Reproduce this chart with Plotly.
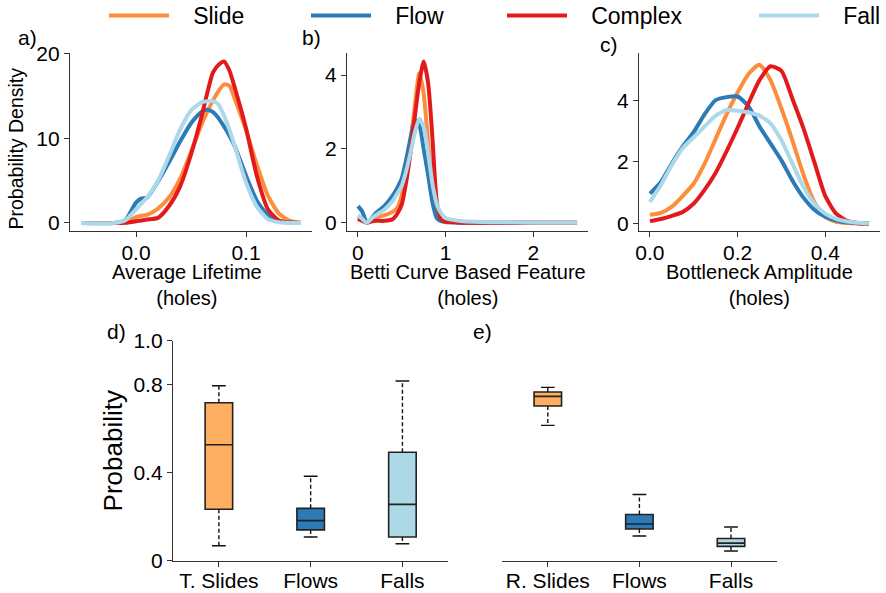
import plotly.graph_objects as go

W, H = 886, 593

# ---------------- data ----------------
series_names = ["Slide", "Flow", "Complex", "Fall"]
series_colors = ["#fd8d3c", "#2c7bb6", "#e31a1c", "#abd9e9"]

# panel a: Average Lifetime (holes)
lifetime_x = [-0.05, -0.02, -0.01, 0.0, 0.005, 0.01, 0.02, 0.03, 0.04, 0.05, 0.06, 0.065,
              0.07, 0.075, 0.08, 0.085, 0.09, 0.10, 0.11, 0.12, 0.13, 0.14, 0.15]
lifetime_slide = [0, 0, 0.05, 0.7, 0.85, 0.95, 1.7, 3.0, 5.2, 8.4, 11.8, 13.2,
                  14.5, 15.6, 16.4, 16.2, 14.6, 11.0, 6.8, 3.2, 1.1, 0.25, 0.02]
lifetime_flow = [0, 0, 0.3, 2.4, 2.9, 3.0, 4.9, 7.2, 9.6, 11.8, 13.2, 13.4,
                 13.1, 12.4, 11.4, 10.3, 9.0, 5.6, 2.6, 0.9, 0.25, 0.05, 0]
lifetime_complex = [0, 0, 0.02, 0.2, 0.3, 0.4, 0.6, 2.0, 4.3, 8.1, 12.8, 15.5,
                    17.8, 18.7, 19.1, 18.0, 15.9, 11.2, 5.5, 1.6, 0.3, 0.05, 0]
lifetime_fall = [0, 0, 0.3, 1.6, 2.3, 3.0, 5.0, 7.9, 11.0, 13.3, 14.3, 14.4,
                 14.4, 14.0, 12.7, 11.0, 9.0, 4.8, 1.9, 0.45, 0.08, 0.01, 0]

# panel b: Betti Curve Based Feature (holes)
betti_x = [0, 0.05, 0.1, 0.15, 0.2, 0.3, 0.4, 0.45, 0.5, 0.55, 0.6, 0.65, 0.7, 0.75,
           0.8, 0.85, 0.875, 0.9, 0.95, 1.0, 1.1, 1.2, 1.4, 1.7, 2.0, 2.5]
betti_slide = [0.15, 0.08, 0.0, 0.08, 0.15, 0.2, 0.3, 0.4, 0.75, 1.3, 2.2, 3.2, 4.05, 3.5,
               2.2, 1.0, 0.5, 0.25, 0.06, 0.02, 0.01, 0, 0, 0, 0, 0]
betti_flow = [0.45, 0.3, 0.0, 0.1, 0.25, 0.45, 0.75, 0.95, 1.2, 1.7, 2.3, 2.78, 2.65, 2.0,
              1.3, 0.55, 0.3, 0.12, 0.04, 0.02, 0.01, 0, 0, 0, 0, 0]
betti_complex = [0.1, 0.05, 0.0, 0.03, 0.05, 0.05, 0.1, 0.25, 0.5, 1.1, 1.9, 2.9, 3.8, 4.37,
                 3.8, 2.3, 1.3, 0.55, 0.08, 0.03, 0.01, 0, 0, 0, 0, 0]
betti_fall = [0.2, 0.1, 0.0, 0.1, 0.2, 0.35, 0.6, 0.8, 1.0, 1.4, 1.9, 2.45, 2.82, 2.6,
              1.9, 1.05, 0.75, 0.5, 0.25, 0.13, 0.07, 0.04, 0.02, 0.01, 0, 0]

# panel c: Bottleneck Amplitude (holes)
bottleneck_x = [0, 0.025, 0.05, 0.075, 0.1, 0.125, 0.15, 0.175, 0.2, 0.225, 0.25, 0.275,
                0.3, 0.325, 0.35, 0.375, 0.4, 0.425, 0.45, 0.475, 0.5]
bottleneck_slide = [0.29, 0.35, 0.55, 0.9, 1.3, 1.95, 2.75, 3.55, 4.25, 4.85, 5.15, 4.65,
                    3.73, 2.7, 1.6, 0.7, 0.22, 0.06, 0.02, 0.005, 0]
bottleneck_flow = [0.97, 1.35, 1.95, 2.5, 2.97, 3.55, 4.0, 4.1, 4.12, 3.8, 3.15, 2.6,
                   2.05, 1.4, 0.85, 0.45, 0.22, 0.1, 0.04, 0.01, 0]
bottleneck_complex = [0.08, 0.15, 0.25, 0.38, 0.65, 1.1, 1.65, 2.35, 3.1, 3.9, 4.65, 5.1,
                      4.95, 4.05, 3.1, 2.0, 0.9, 0.32, 0.09, 0.02, 0]
bottleneck_fall = [0.7, 1.25, 1.9, 2.45, 2.8, 3.15, 3.5, 3.68, 3.66, 3.6, 3.5, 3.25,
                   2.7, 1.95, 1.2, 0.65, 0.32, 0.15, 0.07, 0.03, 0.01]

# panel d: box statistics
d_categories = ["T. Slides", "Flows", "Falls"]
d_lower = [0.068, 0.108, 0.077]
d_q1 = [0.234, 0.140, 0.108]
d_median = [0.527, 0.182, 0.256]
d_q3 = [0.718, 0.238, 0.493]
d_upper = [0.795, 0.384, 0.817]

# panel e: box statistics
e_categories = ["R. Slides", "Flows", "Falls"]
e_lower = [0.615, 0.112, 0.044]
e_q1 = [0.703, 0.144, 0.065]
e_median = [0.747, 0.167, 0.080]
e_q3 = [0.767, 0.210, 0.101]
e_upper = [0.788, 0.301, 0.153]

box_colors = ["#fdae61", "#2c7bb6", "#add8e6"]

# ---------------- figure ----------------
FONT = "Liberation Sans, Arial, sans-serif"
LEGEND_PAD = "\u00a0\u00a0\u00a0"


def px_x(p):
    return p / W


def px_y(p):
    return 1 - p / H


fig = go.Figure()

kde_panels = [
    ("x", "y", lifetime_x, [lifetime_slide, lifetime_flow, lifetime_complex, lifetime_fall]),
    ("x2", "y2", betti_x, [betti_slide, betti_flow, betti_complex, betti_fall]),
    ("x3", "y3", bottleneck_x, [bottleneck_slide, bottleneck_flow, bottleneck_complex, bottleneck_fall]),
]
legend_ids = ["legend", "legend2", "legend3", "legend4"]
for pi, (xa, ya, xs, ys_list) in enumerate(kde_panels):
    for si, ys in enumerate(ys_list):
        fig.add_trace(go.Scatter(
            x=xs, y=ys, mode="lines", name=LEGEND_PAD + series_names[si],
            line=dict(color=series_colors[si], width=4, shape="spline", smoothing=0.6),
            xaxis=xa, yaxis=ya, showlegend=(pi == 0), legend=legend_ids[si],
            hoverinfo="skip"))

BOX_W = 0.3
CAP_W = 0.15


def add_boxes(xa, ya, lower, q1, med, q3, upper):
    for i in range(len(q1)):
        pos = i + 1
        fig.add_trace(go.Scatter(
            x=[pos, pos, None, pos, pos], y=[q3[i], upper[i], None, q1[i], lower[i]],
            mode="lines", line=dict(color="#111", width=1.4, dash="4px,2.5px"),
            xaxis=xa, yaxis=ya, showlegend=False, hoverinfo="skip"))
        fig.add_trace(go.Scatter(
            x=[pos - CAP_W / 2, pos + CAP_W / 2, None, pos - CAP_W / 2, pos + CAP_W / 2],
            y=[upper[i], upper[i], None, lower[i], lower[i]],
            mode="lines", line=dict(color="#111", width=1.4),
            xaxis=xa, yaxis=ya, showlegend=False, hoverinfo="skip"))
        fig.add_trace(go.Box(
            x=[pos], q1=[q1[i]], median=[med[i]], q3=[q3[i]],
            lowerfence=[q1[i]], upperfence=[q3[i]], width=BOX_W, whiskerwidth=0,
            fillcolor=box_colors[i], line=dict(color="#222", width=1.6),
            boxpoints=False, xaxis=xa, yaxis=ya, showlegend=False, hoverinfo="skip"))


add_boxes("x4", "y4", d_lower, d_q1, d_median, d_q3, d_upper)
add_boxes("x5", "y5", e_lower, e_q1, e_median, e_q3, e_upper)

axis_common = dict(showline=True, linecolor="#333", linewidth=1.3, ticks="outside",
                   ticklen=5, tickwidth=1.3, tickcolor="#333", showgrid=False,
                   zeroline=False, tickfont=dict(size=21, color="black"),
                   automargin=False)

top_dom = [px_y(231), px_y(53)]
bot_dom = [px_y(560.7), px_y(340.7)]
a_dom = [px_x(70), px_x(312)]
b_dom = [px_x(347), px_x(588)]
c_dom = [px_x(639), px_x(880)]

fig.update_layout(
    width=W, height=H, margin=dict(l=0, r=0, t=0, b=0, autoexpand=False),
    plot_bgcolor="white", paper_bgcolor="white",
    font=dict(family=FONT, size=21, color="black"),
    xaxis=dict(domain=a_dom, range=[-0.06, 0.16], tickvals=[0.0, 0.1],
               ticktext=["0.0", "0.1"], anchor="y", ticklabelstandoff=-2, **axis_common),
    yaxis=dict(domain=top_dom, range=[-0.95, 20.1], tickvals=[0, 10, 20], anchor="x",
               **axis_common),
    xaxis2=dict(domain=b_dom, range=[-0.125, 2.625], tickvals=[0, 1, 2],
                anchor="y2", ticklabelstandoff=-2, **axis_common),
    yaxis2=dict(domain=top_dom, range=[-0.225, 4.6], tickvals=[0, 2, 4], anchor="x2",
                **axis_common),
    xaxis3=dict(domain=c_dom, range=[-0.025, 0.525], tickvals=[0.0, 0.2, 0.4],
                ticktext=["0.0", "0.2", "0.4"], anchor="y3", ticklabelstandoff=-2,
                **axis_common),
    yaxis3=dict(domain=top_dom, range=[-0.24, 5.53], tickvals=[0, 2, 4], anchor="x3",
                **axis_common),
    xaxis4=dict(domain=[px_x(173), px_x(448.3)], range=[0.5, 3.5], tickvals=[1, 2, 3],
                ticktext=d_categories, anchor="y4", ticklabelstandoff=-4, **axis_common),
    yaxis4=dict(domain=bot_dom, range=[0, 1.0], tickvals=[0, 0.4, 0.8, 1.0],
                ticktext=["0", "0.4", "0.8", "1.0"], anchor="x4",
                title=dict(text="Probability", font=dict(size=26), standoff=3),
                **axis_common),
    xaxis5=dict(domain=[px_x(502), px_x(776.8)], range=[0.5, 3.5], tickvals=[1, 2, 3],
                ticktext=e_categories, anchor="y5", ticklabelstandoff=-4, **axis_common),
    yaxis5=dict(domain=bot_dom, range=[0, 1.0], visible=False, anchor="x5"),
)

legend_px = [104, 306, 502, 754]
for lid, lx in zip(legend_ids, legend_px):
    fig.update_layout({lid: dict(x=px_x(lx), y=1 + 6 / H, xanchor="left", yanchor="top",
                                 orientation="h", bgcolor="rgba(0,0,0,0)",
                                 font=dict(size=23, color="black"), itemwidth=60)})

# y-axis title of the density row
fig.add_annotation(text="Probability Density", x=px_x(16), y=px_y(148.5),
                   xref="paper", yref="paper", showarrow=False, textangle=-90,
                   font=dict(size=19.5, color="black"), xanchor="center", yanchor="middle")

# x-axis titles of the density panels (two lines each), centred under each axis
x_titles = [("Average Lifetime<br>(holes)", a_dom, -4),
            ("Betti Curve Based Feature<br>(holes)", b_dom, 0),
            ("Bottleneck Amplitude<br>(holes)", c_dom, 0)]
for txt, dom, dx in x_titles:
    fig.add_annotation(text=txt, x=(dom[0] + dom[1]) / 2 + dx / W, y=px_y(284.5),
                       xref="paper", yref="paper", showarrow=False,
                       font=dict(size=20, color="black"), xanchor="center",
                       yanchor="middle", align="center")

panel_labels = [("a)", 27, 38), ("b)", 311, 38), ("c)", 609, 44), ("d)", 116, 332), ("e)", 482, 332)]
for txt, lx, ly in panel_labels:
    fig.add_annotation(text=txt, x=px_x(lx), y=px_y(ly), xref="paper", yref="paper",
                       showarrow=False, font=dict(size=21, color="black"),
                       xanchor="center", yanchor="middle")

fig.write_html("out.html")
